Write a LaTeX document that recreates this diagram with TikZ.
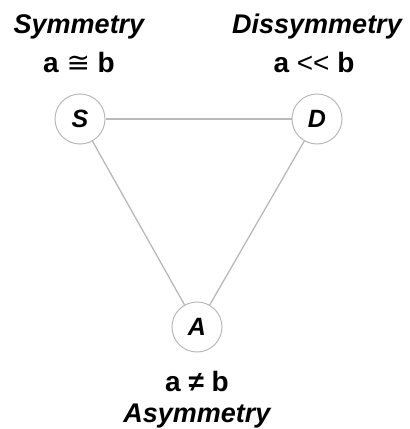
\documentclass[tikz,border=0pt]{standalone}
\usepackage{fontspec}
\setmainfont{Liberation Sans}
\newfontfamily\symf{DejaVu Sans}
\begin{document}
\begin{tikzpicture}[x=1pt,y=-1pt,
  lbl/.style={font=\fontsize{27}{27}\selectfont\bfseries\itshape, anchor=base, inner sep=0},
  rel/.style={font=\fontsize{28}{28}\selectfont\bfseries, anchor=base, inner sep=0},
  vtx/.style={circle, draw=gray!55, line width=1pt, minimum size=50pt, inner sep=0, fill=white,
    font=\fontsize{25}{25}\selectfont\bfseries\itshape},
  edge/.style={draw=gray!55, line width=1.3pt}]
\useasboundingbox (0,0) rectangle (410,429);
\node[vtx] (S) at (80,119) {S};
\node[vtx] (D) at (317,119) {D};
\node[vtx] (A) at (197,327) {A};
\draw[edge] (S) -- (D);
\draw[edge] (S) -- (A);
\draw[edge] (D) -- (A);
\node[lbl] (tS) at (79,33) {Symmetry};
\node[rel] (rS) at (79,72) {a {\symf\mdseries ≅} b};
\node[lbl] (tD) at (317,33) {Dissymmetry};
\node[rel] (rD) at (314,72) {a {\mdseries<\kern0pt<} b};
\node[rel] (rA) at (197,391) {a ≠ b};
\node[lbl] (tA) at (197,422) {Asymmetry};
\end{tikzpicture}
\end{document}
